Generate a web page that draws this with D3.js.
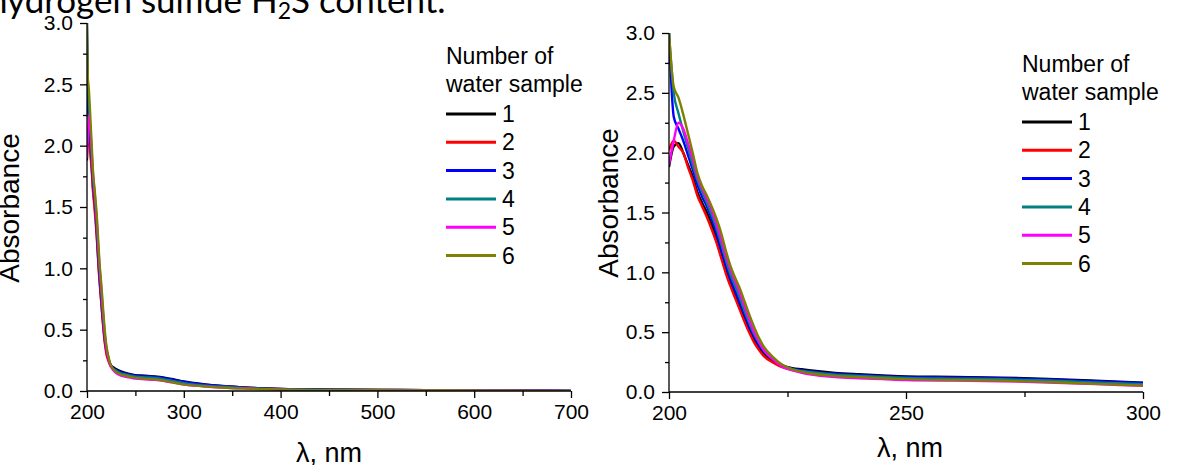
<!DOCTYPE html>
<html>
<head>
<meta charset="utf-8">
<script src="https://cdn.jsdelivr.net/npm/d3@7"></script>
<style>
  body { margin: 0; background: #fff; }
</style>
</head>
<body>
<div id="chart"></div>
<script>
// wavelengths, nm
var wavelengths = [200, 201, 202, 203, 204, 205, 206, 207, 208, 209, 210, 211, 212, 213, 214, 215, 216, 217, 218, 219, 220,
  222, 224, 226, 228, 230, 235, 240, 245, 250, 260, 270, 280, 290, 300,
  320, 340, 360, 380, 400, 450, 500, 550, 600, 650, 700];

// absorbance of each water sample
var sample1 = [1.88, 2.05, 2.08, 2.00, 1.90, 1.80, 1.67, 1.58, 1.50, 1.40, 1.28, 1.14, 1.01, 0.90, 0.80, 0.70, 0.60, 0.51, 0.43, 0.37, 0.32,
  0.26, 0.22, 0.20, 0.19, 0.18, 0.16, 0.148, 0.138, 0.130, 0.126, 0.120, 0.110, 0.095, 0.078,
  0.056, 0.041, 0.031, 0.023, 0.018, 0.012, 0.010, 0.008, 0.006, 0.004, 0.002];
var sample2 = [2.02, 2.10, 2.05, 2.00, 1.88, 1.77, 1.64, 1.55, 1.46, 1.36, 1.25, 1.12, 0.99, 0.88, 0.78, 0.68, 0.58, 0.49, 0.41, 0.35, 0.30,
  0.245, 0.205, 0.185, 0.172, 0.162, 0.147, 0.137, 0.128, 0.120, 0.117, 0.112, 0.100, 0.085, 0.070,
  0.050, 0.037, 0.028, 0.021, 0.016, 0.011, 0.009, 0.007, 0.005, 0.003, 0.001];
var sample3 = [3.00, 2.30, 2.20, 2.10, 1.98, 1.86, 1.73, 1.63, 1.55, 1.45, 1.33, 1.19, 1.06, 0.94, 0.84, 0.74, 0.64, 0.54, 0.46, 0.39, 0.34,
  0.27, 0.22, 0.195, 0.182, 0.172, 0.152, 0.142, 0.133, 0.125, 0.120, 0.115, 0.105, 0.090, 0.075,
  0.054, 0.040, 0.030, 0.022, 0.017, 0.012, 0.010, 0.008, 0.006, 0.004, 0.002];
var sample4 = [3.00, 2.50, 2.33, 2.18, 2.04, 1.90, 1.77, 1.67, 1.58, 1.48, 1.37, 1.24, 1.10, 0.98, 0.88, 0.78, 0.67, 0.57, 0.48, 0.41, 0.35,
  0.275, 0.22, 0.19, 0.176, 0.165, 0.145, 0.135, 0.125, 0.118, 0.112, 0.107, 0.096, 0.080, 0.065,
  0.047, 0.035, 0.026, 0.019, 0.015, 0.010, 0.008, 0.006, 0.005, 0.003, 0.001];
var sample5 = [1.90, 2.10, 2.25, 2.20, 2.08, 1.95, 1.80, 1.70, 1.61, 1.52, 1.41, 1.28, 1.14, 1.02, 0.92, 0.82, 0.71, 0.60, 0.50, 0.42, 0.35,
  0.27, 0.21, 0.18, 0.16, 0.145, 0.125, 0.115, 0.108, 0.100, 0.095, 0.090, 0.080, 0.066, 0.052,
  0.038, 0.028, 0.021, 0.016, 0.012, 0.008, 0.007, 0.005, 0.004, 0.002, 0.000];
var sample6 = [3.00, 2.55, 2.46, 2.32, 2.16, 2.00, 1.83, 1.72, 1.64, 1.55, 1.45, 1.33, 1.18, 1.05, 0.95, 0.86, 0.75, 0.64, 0.54, 0.45, 0.38,
  0.29, 0.225, 0.19, 0.17, 0.155, 0.135, 0.125, 0.115, 0.108, 0.100, 0.095, 0.083, 0.068, 0.053,
  0.038, 0.028, 0.021, 0.016, 0.012, 0.008, 0.007, 0.005, 0.004, 0.002, 0.000];

var sampleNames = ["1", "2", "3", "4", "5", "6"];
var sampleColors = ["#000000", "#ff0000", "#0000ff", "#008080", "#ff00ff", "#808000"];
var samples = [sample1, sample2, sample3, sample4, sample5, sample6];

var yTicks = [0, 0.5, 1.0, 1.5, 2.0, 2.5, 3.0];
var yMinorTicks = [0.25, 0.75, 1.25, 1.75, 2.25, 2.75];
var leftXTicks = [200, 300, 400, 500, 600, 700];
var leftXMinor = [250, 350, 450, 550, 650];
var rightXTicks = [200, 250, 300];
var rightXMinor = [225, 275];

var FONT = "'Liberation Sans', Arial, Helvetica, sans-serif";
var width = 1177, height = 465;

var svg = d3.select("#chart").append("svg")
  .attr("width", width)
  .attr("height", height);

// caption text cut off at the top of the picture
var caption = svg.append("text")
  .attr("x", -12)
  .attr("y", 13)
  .style("font-family", "Lato, 'Noto Sans', sans-serif")
  .style("font-size", "35px");
caption.append("tspan").text("hydrogen sulfide H");
caption.append("tspan").attr("dy", 6).style("font-size", "23px").text("2");
caption.append("tspan").attr("dy", -6).text("S content.");

// one panel: axes, curves, legend
function drawPanel(p) {
  var x = d3.scaleLinear().domain(p.xDomain).range([p.left, p.right]);
  var y = d3.scaleLinear().domain([0, 3]).range([p.bottom, p.top]);

  var g = svg.append("g");

  var clipId = "clip" + p.id;
  g.append("clipPath").attr("id", clipId)
    .append("rect")
    .attr("x", p.left).attr("y", p.top - 2)
    .attr("width", p.right - p.left).attr("height", p.bottom - p.top + 2);

  var line = d3.line()
    .x(function(d) { return x(d[0]); })
    .y(function(d) { return y(d[1]); })
    .curve(d3.curveMonotoneX);

  var curves = g.append("g").attr("clip-path", "url(#" + clipId + ")");
  samples.forEach(function(s, i) {
    var pts = wavelengths.map(function(w, k) { return [w, s[k]]; })
      .filter(function(d) { return d[0] <= p.xDomain[1]; });
    curves.append("path")
      .datum(pts)
      .attr("d", line)
      .attr("fill", "none")
      .attr("stroke", sampleColors[i])
      .attr("stroke-width", p.lineWidth)
      .attr("stroke-linejoin", "round");
  });

  // y axis
  var yAxis = g.append("g")
    .attr("transform", "translate(" + p.left + ",0)")
    .call(d3.axisLeft(y).tickValues(yTicks).tickFormat(d3.format(".1f")).tickSize(7).tickPadding(7));
  g.append("g")
    .attr("transform", "translate(" + p.left + ",0)")
    .call(d3.axisLeft(y).tickValues(yMinorTicks).tickFormat("").tickSize(4))
    .select(".domain").remove();

  // x axis
  var xAxis = g.append("g")
    .attr("transform", "translate(0," + p.bottom + ")")
    .call(d3.axisBottom(x).tickValues(p.xTicks).tickFormat(d3.format("d")).tickSize(7).tickPadding(6));
  g.append("g")
    .attr("transform", "translate(0," + p.bottom + ")")
    .call(d3.axisBottom(x).tickValues(p.xMinor).tickFormat("").tickSize(5))
    .select(".domain").remove();

  yAxis.select(".domain").attr("d", "M0," + p.top + "V" + p.bottom);
  xAxis.select(".domain").attr("d", "M" + p.left + ",0H" + p.right);
  g.selectAll(".domain, .tick line").attr("stroke", "#000").attr("stroke-width", 1.3);
  g.selectAll(".tick text")
    .style("font-family", FONT)
    .style("font-size", "21px")
    .attr("fill", "#000");

  // axis titles
  g.append("text")
    .attr("transform", "translate(" + p.yTitleX + "," + p.yTitleY + ") rotate(-90)")
    .attr("text-anchor", "middle")
    .style("font-family", FONT)
    .style("font-size", "28px")
    .text("Absorbance");
  g.append("text")
    .attr("x", p.xTitleX)
    .attr("y", p.xTitleY)
    .attr("text-anchor", "middle")
    .style("font-family", FONT)
    .style("font-size", "27px")
    .text("\u03bb, nm");

  // legend
  var lg = g.append("g").attr("transform", "translate(" + p.legendX + "," + p.legendY + ")")
    .style("font-family", FONT)
    .style("font-size", "23px");
  lg.append("text").attr("x", 0).attr("y", 0).text("Number of");
  lg.append("text").attr("x", 0).attr("y", 28).text("water sample");
  sampleNames.forEach(function(name, i) {
    var yy = 50 + i * 28.3;
    lg.append("line")
      .attr("x1", 0).attr("x2", 50)
      .attr("y1", yy).attr("y2", yy)
      .attr("stroke", sampleColors[i])
      .attr("stroke-width", 3);
    lg.append("text")
      .attr("x", 56).attr("y", yy + 8)
      .text(name);
  });
}

drawPanel({
  id: "L", xDomain: [200, 700], left: 87, right: 571, top: 23, bottom: 391,
  xTicks: leftXTicks, xMinor: leftXMinor, lineWidth: 2.2,
  yTitleX: 19, yTitleY: 208, xTitleX: 329, xTitleY: 462,
  legendX: 446, legendY: 64
});

drawPanel({
  id: "R", xDomain: [200, 300], left: 669, right: 1143, top: 33, bottom: 392,
  xTicks: rightXTicks, xMinor: rightXMinor, lineWidth: 2.4,
  yTitleX: 618, yTitleY: 203, xTitleX: 910, xTitleY: 457,
  legendX: 1022, legendY: 72
});
</script>
</body>
</html>
